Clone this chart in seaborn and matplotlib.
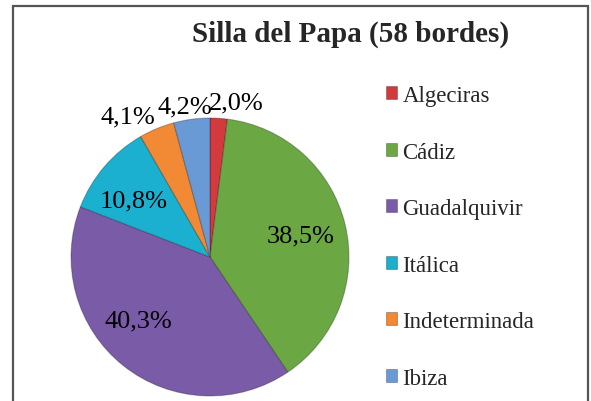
import matplotlib
matplotlib.use('Agg')
import matplotlib.pyplot as plt
import matplotlib.patches as mpatches
import numpy as np
import seaborn as sns

# ==============================
# DATOS
# ==============================
zonas = ['Algeciras', 'Cádiz', 'Guadalquivir', 'Itálica', 'Indeterminada', 'Ibiza']
porcentajes = [2.0, 38.5, 40.3, 10.8, 4.1, 4.2]
colores = ['#D23A3E', '#6BA843', '#7A5BA8', '#1BB0CF', '#F28A35', '#6A9AD6']
titulo = 'Silla del Papa (58 bordes)'

# posicion de las etiquetas (distancia al centro, ajuste de angulo)
dist_etq = [1.13, 0.67, 0.69, 0.68, 1.17, 1.10]
ajuste_ang = [-6, 0, -10, 4, 8, 2]

sns.set_theme(style='white')
plt.rcParams['font.family'] = ['Liberation Serif', 'DejaVu Serif']

W, H = 591, 402
fig = plt.figure(figsize=(W / 100, H / 100), dpi=100)
fig.patch.set_facecolor('white')

# pie: centro (210, 258) px, radio 139 px
cx, cy, r = 210, 258, 139
ax = fig.add_axes([(cx - r) / W, (H - cy - r) / H, 2 * r / W, 2 * r / H])
pal = sns.color_palette(colores)
wedges, _ = ax.pie(porcentajes, colors=pal, startangle=90, counterclock=False,
                   wedgeprops=dict(edgecolor=(0, 0, 0, 0.25), linewidth=0.8))
ax.set_xlim(-1, 1)
ax.set_ylim(-1, 1)
ax.set_aspect('auto')
ax.axis('off')

for w, v, d, da in zip(wedges, porcentajes, dist_etq, ajuste_ang):
    ang = np.deg2rad((w.theta1 + w.theta2) / 2 + da)
    txt = f'{v:.1f}'.replace('.', ',') + '%'
    ax.text(d * np.cos(ang), d * np.sin(ang), txt, ha='center', va='center',
            fontsize=19, color='black', clip_on=False)

# titulo
fig.text(351 / W, 1 - 34 / H, titulo, ha='center', va='center',
         fontsize=21, fontweight='bold')

# leyenda
leg = fig.legend(wedges, zonas, loc='upper left',
                 bbox_to_anchor=(386 / W, 1 - 86 / H),
                 frameon=False, fontsize=16.5, labelspacing=1.55,
                 handlelength=0.5, handleheight=0.5, handletextpad=0.22,
                 borderpad=0, borderaxespad=0)

# marco
fig.patches.append(mpatches.Rectangle((13 / W, -0.1), (588 - 13) / W, 1.1 - 7 / H,
                                      transform=fig.transFigure, fill=False,
                                      edgecolor='#555555', linewidth=1.6))

plt.savefig('out.png', dpi=100, facecolor='white')
plt.close()
